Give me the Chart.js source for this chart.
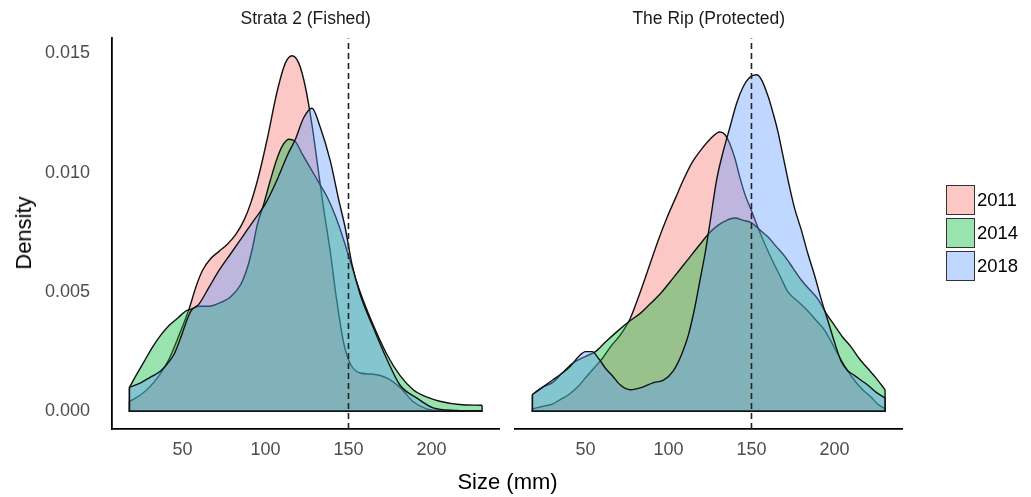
<!DOCTYPE html>
<html><head><meta charset="utf-8">
<script src="https://cdn.jsdelivr.net/npm/chart.js@4.4.1/dist/chart.umd.min.js"></script>
<style>
html,body{margin:0;padding:0;background:#fff;}
#wrap{position:relative;width:1031px;height:497px;overflow:hidden;font-family:"Liberation Sans",Arial,sans-serif;}
canvas{position:absolute;top:0;}
.lbl{position:absolute;white-space:nowrap;transform:translate(-50%,-50%);color:#1a1a1a;}
.strip{font-size:17.5px;}
.axt{font-size:22px;color:#000;}
.key{position:absolute;left:946px;width:29px;height:30px;box-sizing:border-box;border:1.5px solid #333;}
.keyt{position:absolute;left:977px;font-size:18.5px;color:#000;line-height:30px;}
</style></head><body>
<div id="wrap">
<canvas id="cL" width="505" height="497" style="left:0"></canvas>
<canvas id="cR" width="526" height="497" style="left:505px"></canvas>
<div class="lbl strip" style="left:305.75px;top:18px">Strata 2 (Fished)</div>
<div class="lbl strip" style="left:708.75px;top:18px">The Rip (Protected)</div>
<div class="lbl axt" style="left:507.5px;top:482px">Size (mm)</div>
<div class="lbl axt" style="left:24px;top:233px;transform:translate(-50%,-50%) rotate(-90deg)">Density</div>
<div id="legend"></div>
</div>
<script>
// ---- data ----
const years = ['2011', '2014', '2018'];
const panels = ['Strata 2 (Fished)', 'The Rip (Protected)'];
const xTicks = [50, 100, 150, 200];
const yTicks = [0, 0.005, 0.010, 0.015];
const legalSize = 150;

const fished2011Size = [18,25,30,36,42,48,54,58,62,67,72,77,82,87,91,96,101,107,112,116,120,124,128,132,135,139,143,147,151,157,165,173,181,189,197,205,215,230.5];
const fished2011Dens = [0.0004,0.0007,0.0010,0.0015,0.0022,0.0032,0.0043,0.0052,0.0059,0.0064,0.0067,0.0070,0.0074,0.0080,0.0087,0.0099,0.0114,0.0134,0.0146,0.0149,0.0146,0.0136,0.0120,0.0100,0.0085,0.0067,0.0046,0.0029,0.0020,0.0016,0.00155,0.0014,0.0010,0.0004,0.0001,0.00002,0,0];

const fished2014Size = [18,22,27,32,37,42,47,52,56,60,66,71,79,85,89,92,95,99,103,107,110,114,118,122,127,132,137,142,147,151,157,165,173,181,189,197,205,217,230.5];
const fished2014Dens = [0.0010,0.0015,0.0021,0.0027,0.0032,0.0036,0.0039,0.0042,0.0043,0.0044,0.0044,0.0045,0.0048,0.0053,0.0060,0.0068,0.0078,0.0087,0.0097,0.0106,0.0111,0.0114,0.0113,0.0108,0.0102,0.0096,0.0090,0.0082,0.0072,0.0063,0.0050,0.0036,0.0024,0.0015,0.0009,0.0006,0.00042,0.00028,0.00025];

const fished2018Size = [18,25,30,37,41,45,49,52,55,60,66,72,79,86,93,100,107,113,118,123,128,133,139,144,148,152,157,165,173,181,191,201,215,230.5];
const fished2018Dens = [0.0010,0.0012,0.0014,0.0017,0.0020,0.0024,0.0031,0.0037,0.0042,0.0045,0.0052,0.0059,0.0066,0.0073,0.0080,0.0087,0.0097,0.0107,0.0114,0.0123,0.0127,0.0119,0.0105,0.0089,0.0077,0.0062,0.0049,0.0035,0.0022,0.0011,0.00056,0.00014,0.00003,0];

const rip2011Size = [18,24,30,35,40,45,50,55,60,65,71,77,83,89,94,99,104,109,114,119,125,131,134,137,140,143,146,150,155,162,167,172,178,184,189,194,202,207,212,217,222,226,230.5];
const rip2011Dens = [0.0001,0.0002,0.0003,0.0005,0.0007,0.0010,0.0014,0.0018,0.0022,0.0027,0.0032,0.0039,0.0050,0.0062,0.0072,0.0081,0.0089,0.0097,0.0104,0.0109,0.0114,0.0117,0.0116,0.0112,0.0106,0.0098,0.0091,0.0084,0.0075,0.0064,0.0057,0.0050,0.0046,0.0042,0.0038,0.0034,0.0024,0.0018,0.0013,0.0009,0.0006,0.0003,0.0001];

const rip2014Size = [18,24,30,36,42,50,56,62,70,77,83,89,96,103,111,119,125,130,135,140,145,150,155,160,165,170,175,180,185,190,195,200,205,210,215,220,225,230.5];
const rip2014Dens = [0.0007,0.0010,0.0012,0.0016,0.0020,0.0023,0.0025,0.0029,0.0034,0.0038,0.0041,0.0045,0.0050,0.0056,0.0063,0.0070,0.0075,0.0078,0.0080,0.0081,0.0080,0.0079,0.0076,0.0073,0.0069,0.0065,0.0060,0.0055,0.0051,0.0047,0.0041,0.0036,0.0031,0.0027,0.0022,0.0018,0.0014,0.0009];

const rip2018Size = [18,24,30,36,41,46,50,54,58,62,66,71,77,84,91,97,103,108,112,116,119,122,125,129,133,137,141,145,149,153,156,160,163,166,169,172,176,180,184,188,192,196,200,204,208,212,216,220,225,230.5];
const rip2018Dens = [0.0007,0.0010,0.0013,0.0016,0.0019,0.0023,0.0025,0.0025,0.0022,0.0018,0.0015,0.0011,0.0009,0.0010,0.0012,0.0013,0.0017,0.0024,0.0032,0.0044,0.0055,0.0066,0.0079,0.0097,0.0109,0.0119,0.0129,0.0136,0.0140,0.0141,0.0139,0.0132,0.0125,0.0117,0.0107,0.0097,0.0085,0.0076,0.0066,0.0057,0.0047,0.0038,0.0029,0.0021,0.0017,0.0015,0.0013,0.0011,0.0008,0.00056];

// ---- styling ----
const fills = ['rgba(248,118,109,0.4)', 'rgba(0,186,56,0.4)', 'rgba(97,156,255,0.4)'];
const FONT = '"Liberation Sans", Arial, sans-serif';
const LINE = '#111';
const LW = 1.4;
const xMin = 7.5, xMax = 241;
const yMin = -0.000745, yMax = 0.01563;

function curve(sizes, dens, i) {
  return {
    data: sizes.map((s, k) => ({x: s, y: dens[k]})),
    borderColor: LINE, borderWidth: LW, backgroundColor: fills[i],
    fill: 'origin', pointRadius: 0, cubicInterpolationMode: 'monotone',
    order: 10 - 3 * i
  };
}
function edges(sizes, dens, i) {
  const n = sizes.length - 1;
  return {
    data: [{x: sizes[0], y: dens[0]}, {x: sizes[0], y: 0}, {x: sizes[n], y: 0}, {x: sizes[n], y: dens[n]}],
    borderColor: LINE, borderWidth: LW, fill: false, pointRadius: 0, tension: 0,
    order: 9 - 3 * i
  };
}
function vline() {
  return {
    data: [{x: legalSize, y: yMin}, {x: legalSize, y: yMax}],
    borderColor: '#222', borderWidth: 1.6, borderDash: [6, 4], fill: false,
    pointRadius: 0, tension: 0, order: 0
  };
}

function makeChart(id, series, showY, pad) {
  const ds = [];
  series.forEach((s, i) => { ds.push(curve(s[0], s[1], i)); ds.push(edges(s[0], s[1], i)); });
  ds.push(vline());
  return new Chart(document.getElementById(id), {
    type: 'line',
    data: {datasets: ds},
    options: {
      responsive: false, animation: false, devicePixelRatio: 1,
      layout: {padding: pad},
      plugins: {legend: {display: false}, tooltip: {enabled: false}},
      events: [],
      scales: {
        x: {
          type: 'linear', min: xMin, max: xMax,
          afterBuildTicks: s => { s.ticks = xTicks.map(v => ({value: v})); },
          afterFit: s => { s.height = 68; },
          ticks: {font: {size: 18, family: FONT}, color: '#4d4d4d', padding: 10, autoSkip: false, maxRotation: 0},
          grid: {display: false, drawTicks: false},
          border: {display: true, color: '#000', width: 1.8}
        },
        y: {
          type: 'linear', display: showY, min: yMin, max: yMax,
          afterBuildTicks: s => { s.ticks = yTicks.map(v => ({value: v})); },
          afterFit: s => { s.width = showY ? 112 : 0; },
          ticks: {font: {size: 18, family: FONT}, color: '#4d4d4d', padding: 22, callback: v => v.toFixed(3)},
          grid: {display: false, drawTicks: false},
          border: {display: showY, color: '#000', width: 1.8}
        }
      }
    }
  });
}

makeChart('cL', [[fished2011Size, fished2011Dens], [fished2014Size, fished2014Dens], [fished2018Size, fished2018Dens]], true,
  {left: 0, right: 5.5, top: 38.3, bottom: 0});
makeChart('cR', [[rip2011Size, rip2011Dens], [rip2014Size, rip2014Dens], [rip2018Size, rip2018Dens]], false,
  {left: 10, right: 128.5, top: 38.3, bottom: 0});

// legend
const lg = document.getElementById('legend');
years.forEach((y, i) => {
  const top = 185 + i * 33;
  const b = document.createElement('div');
  b.className = 'key'; b.style.top = top + 'px'; b.style.background = fills[i];
  lg.appendChild(b);
  const t = document.createElement('div');
  t.className = 'keyt'; t.style.top = top + 'px'; t.textContent = y;
  lg.appendChild(t);
});
</script>
</body></html>
